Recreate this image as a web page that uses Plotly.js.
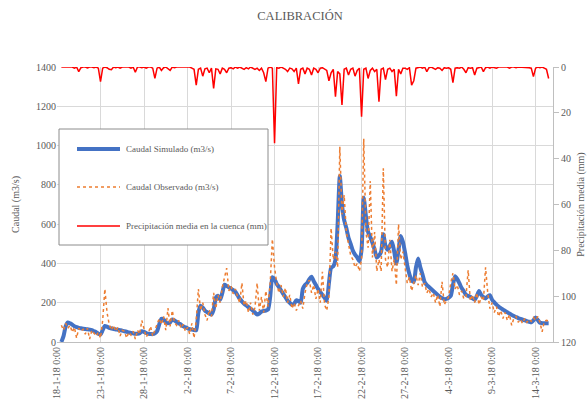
<!DOCTYPE html>
<html>
<head>
<meta charset="utf-8">
<script src="https://cdn.plot.ly/plotly-3.0.1.min.js"></script>
<style>
  html, body { margin: 0; padding: 0; background: #ffffff; }
  #chart { width: 587px; height: 400px; }
</style>
</head>
<body>
<div id="chart"></div>
<script>
// Series sampled every 6 hours, starting 18-1-18 12:00
const seriesStart = Date.UTC(2018, 0, 18, 12);
const stepHours = 6;

// Caudal simulado (m3/s)
const caudalSimulado = [
  0, 30,
  80, 100, 95, 88,
  80, 76, 72, 70,
  68, 66, 65, 63,
  60, 55, 50, 42,
  38, 60, 82, 78,
  72, 69, 66, 64,
  62, 60, 58, 55,
  52, 49, 46, 44,
  42, 42, 45, 55,
  52, 46, 42, 41,
  40, 44, 55, 90,
  118, 115, 100, 95,
  100, 115, 110, 102,
  95, 88, 80, 75,
  70, 66, 63, 61,
  60, 150, 185, 175,
  160, 152, 145, 140,
  165, 225, 235, 215,
  250, 292, 285, 278,
  272, 264, 255, 238,
  220, 207, 195, 186,
  178, 169, 160, 150,
  140, 145, 155, 158,
  160, 165, 230, 330,
  320, 295, 280, 262,
  245, 228, 210, 200,
  190, 195, 212, 208,
  200, 270, 290, 300,
  320, 332, 310, 290,
  270, 255, 240, 225,
  210, 300, 378, 385,
  420, 600, 845, 700,
  620, 580, 530, 500,
  465, 445, 430, 410,
  470, 735, 640, 560,
  535, 505, 470, 430,
  440, 460, 548, 490,
  470, 490, 510, 460,
  400, 470, 540, 510,
  455, 390, 345, 315,
  305, 380, 425, 380,
  345, 305, 290, 280,
  270, 260, 250, 240,
  230, 224, 218, 220,
  225, 235, 290, 335,
  320, 298, 275, 258,
  240, 235, 230, 222,
  215, 235, 260, 240,
  228, 222, 232, 238,
  215, 202, 190, 180,
  172, 165, 158, 151,
  145, 138, 132, 127,
  122, 118, 114, 110,
  106, 103, 100, 110,
  125, 112, 98, 96,
  95, 95, 95
];

// Caudal observado (m3/s)
const caudalObservado = [
  85, 60,
  95, 70, 85, 50,
  75, 20, 70, 55,
  65, 40, 70, 15,
  60, 45, 30, 50,
  20, 110, 270, 150,
  90, 60, 85, 55,
  75, 30, 60, 55,
  20, 50, 35, 55,
  15, 60, 40, 110,
  70, 25, 45, 80,
  30, 60, 85, 120,
  90, 130, 60, 172,
  80, 160, 100, 85,
  110, 70, 90, 55,
  75, 40, 95, 20,
  110, 270, 160, 200,
  140, 110, 165, 130,
  250, 170, 240, 200,
  280, 330, 376, 260,
  285, 245, 270, 230,
  200, 300, 185, 210,
  150, 200, 140, 175,
  300, 160, 230, 150,
  260, 180, 300, 524,
  380, 300, 250, 290,
  230, 275, 200, 240,
  170, 200, 160, 185,
  210, 170, 250, 300,
  315, 250, 290, 220,
  270, 200, 358, 190,
  160, 230, 580, 420,
  460, 380, 994, 650,
  748, 560, 500, 440,
  420, 380, 400, 360,
  420, 1035, 560, 480,
  820, 430, 560, 360,
  420, 360, 884, 420,
  380, 520, 360, 420,
  290, 600, 420, 460,
  380, 300, 330, 260,
  300, 340, 290, 350,
  280, 300, 250, 270,
  230, 250, 200, 240,
  180, 307, 190, 210,
  230, 300, 350, 270,
  290, 240, 260, 220,
  230, 366, 210, 240,
  200, 250, 190, 230,
  210, 380, 250, 170,
  200, 150, 180, 130,
  160, 120, 150, 110,
  140, 85, 120, 130,
  100, 115, 95, 120,
  100, 115, 105, 125,
  110, 130, 100, 52,
  105, 110, 108
];

// Precipitación media en la cuenca (mm)
const precipitacion = [
  0, 0,
  0, 0.3, 0, 0,
  0.5, 0, 2, 0.3,
  0, 0, 0.4, 0,
  0, 0.3, 0, 0.5,
  6.4, 0.5, 0, 0.3,
  1, 1.2, 0, 0.3,
  0, 0.5, 0, 0,
  0.3, 0, 0.5, 0,
  2.3, 0, 0, 0.3,
  0, 0.5, 0, 0,
  0.5, 5, 0.5, 0,
  1.5, 0.3, 0, 0.8,
  1.5, 0, 0.3, 0,
  0, 0.3, 0, 0,
  0.3, 0, 0.5, 1,
  7.9, 1, 0.5, 4,
  0.8, 0.5, 2.5, 0.5,
  9.3, 0.8, 1, 3,
  0.5, 1, 2.5, 0.5,
  0.3, 0.8, 0, 0.5,
  0, 0.5, 1, 0.3,
  0.8, 0, 0.5, 1,
  0.5, 1.5, 0.5, 2.5,
  6.4, 0.5, 0, 0.5,
  33.3, 0.3, 0.5, 0,
  0.5, 1, 2, 0.5,
  0.8, 2, 0.5, 7.4,
  1, 0.5, 3, 0.5,
  1, 3.5, 0.5, 1,
  2.5, 0.5, 0.3, 1,
  1.5, 6, 2.5, 1,
  13, 2, 3, 16.6,
  1, 0.5, 3.5, 1,
  0.5, 4, 1.5, 0.5,
  21.7, 1, 0.5, 5,
  1.5, 0.5, 2, 1,
  15.1, 1, 0.5, 5.5,
  1, 0.5, 2, 1,
  12.7, 1, 3, 0.5,
  0.5, 1, 0.3, 7.9,
  6, 0.5, 0.3, 0,
  0.5, 0, 2, 0.3,
  0, 0.5, 1, 0.3,
  0.5, 1.5, 0.3, 0.5,
  0.3, 1, 6.8, 0.5,
  0.3, 0.5, 0, 1,
  2.5, 0.3, 0.5, 0.3,
  3.5, 0.5, 0.3, 0,
  2, 0.3, 0, 0.5,
  0, 0.3, 0.5, 0,
  0, 0.3, 0, 0,
  0.5, 0, 0, 0.3,
  0, 0, 0.3, 0,
  0, 0.3, 0.5, 4.2,
  0.5, 0, 0.3, 0,
  0.5, 1, 5
];

// Date axis ticks, every 5 days
const tickDates = [
  '2018-01-18', '2018-01-23', '2018-01-28', '2018-02-02', '2018-02-07', '2018-02-12',
  '2018-02-17', '2018-02-22', '2018-02-27', '2018-03-04', '2018-03-09', '2018-03-14'
];
const tickLabels = [
  '18-1-18 0:00', '23-1-18 0:00', '28-1-18 0:00', '2-2-18 0:00', '7-2-18 0:00', '12-2-18 0:00',
  '17-2-18 0:00', '22-2-18 0:00', '27-2-18 0:00', '4-3-18 0:00', '9-3-18 0:00', '14-3-18 0:00'
];

const legendNames = [
  'Caudal Simulado (m3/s)',
  'Caudal Observado (m3/s)',
  'Precipitación media en la cuenca (mm)'
];

function timeAxis(values) {
  return values.map(function (_, i) {
    const t = new Date(seriesStart + i * stepHours * 3600e3);
    return t.toISOString().slice(0, 16).replace('T', ' ');
  });
}

const colSim = '#4472C4';
const colObs = '#ED7D31';
const colPre = '#FF0000';
const serif = '"Liberation Serif", "Times New Roman", serif';
const grey = '#595959';

const traces = [
  {
    x: timeAxis(caudalSimulado), y: caudalSimulado, name: legendNames[0],
    type: 'scatter', mode: 'lines', yaxis: 'y',
    line: { color: colSim, width: 4, shape: 'spline', smoothing: 0.6 }
  },
  {
    x: timeAxis(caudalObservado), y: caudalObservado, name: legendNames[1],
    type: 'scatter', mode: 'lines', yaxis: 'y',
    line: { color: colObs, width: 1.5, dash: 'dot' }
  },
  {
    x: timeAxis(precipitacion), y: precipitacion, name: legendNames[2],
    type: 'scatter', mode: 'lines', yaxis: 'y2',
    line: { color: colPre, width: 1.5 }
  }
];

// Plot area spans pixels 57..553 horizontally and 67..342 vertically
const L = 57, R = 553, T = 67, B = 342;
const px = function (x) { return (x - L) / (R - L); };
const py = function (y) { return (B - y) / (B - T); };

const legendRows = [149, 187, 226];
const shapes = [
  { type: 'rect', xref: 'paper', yref: 'paper', x0: px(59), x1: px(268), y0: py(245), y1: py(129),
    line: { color: '#8c8c8c', width: 1 }, fillcolor: '#ffffff', layer: 'above' },
  { type: 'line', xref: 'paper', yref: 'paper', x0: px(77), x1: px(120), y0: py(legendRows[0]), y1: py(legendRows[0]),
    line: { color: colSim, width: 4 }, layer: 'above' },
  { type: 'line', xref: 'paper', yref: 'paper', x0: px(77), x1: px(120), y0: py(legendRows[1]), y1: py(legendRows[1]),
    line: { color: colObs, width: 1.5, dash: 'dot' }, layer: 'above' },
  { type: 'line', xref: 'paper', yref: 'paper', x0: px(77), x1: px(120), y0: py(legendRows[2]), y1: py(legendRows[2]),
    line: { color: colPre, width: 1.5 }, layer: 'above' }
];
const annotations = legendRows.map(function (row, i) {
  return {
    xref: 'paper', yref: 'paper', x: px(124), y: py(row), xanchor: 'left', yanchor: 'middle',
    text: legendNames[i], showarrow: false, font: { family: serif, size: 9, color: grey }
  };
});

const layout = {
  width: 587, height: 400,
  margin: { l: L, r: 587 - R, t: T, b: 400 - B, pad: 0 },
  paper_bgcolor: '#ffffff', plot_bgcolor: '#ffffff',
  font: { family: serif, size: 10, color: grey },
  showlegend: false,
  title: {
    text: 'CALIBRACIÓN', x: 300 / 587, xanchor: 'center', y: 1 - 16 / 400, yanchor: 'middle',
    font: { family: serif, size: 12.5, color: grey }
  },
  xaxis: {
    type: 'date', range: ['2018-01-18', '2018-03-16'],
    tickmode: 'array', tickvals: tickDates, ticktext: tickLabels, tickangle: -90,
    showgrid: true, gridcolor: '#d9d9d9', gridwidth: 1,
    showline: true, linecolor: '#bfbfbf', linewidth: 1, zeroline: false,
    ticks: '', tickfont: { family: serif, size: 10, color: grey }, automargin: false
  },
  yaxis: {
    range: [0, 1400], dtick: 200, tick0: 0,
    showgrid: true, gridcolor: '#d9d9d9', gridwidth: 1,
    showline: false, zeroline: false, ticks: '',
    tickfont: { family: serif, size: 10, color: grey }, automargin: false,
    title: { text: 'Caudal (m3/s)', font: { family: serif, size: 10, color: grey }, standoff: 14 }
  },
  yaxis2: {
    overlaying: 'y', side: 'right', range: [120, 0], dtick: 20, tick0: 0,
    showgrid: false, zeroline: false,
    showline: true, linecolor: '#bfbfbf', linewidth: 1,
    ticks: 'outside', ticklen: 5, tickcolor: '#bfbfbf',
    tickfont: { family: serif, size: 10, color: grey }, automargin: false,
    title: { text: 'Precipitación media (mm)', font: { family: serif, size: 10, color: grey }, standoff: 20 }
  },
  shapes: shapes,
  annotations: annotations
};

Plotly.newPlot('chart', traces, layout, { displayModeBar: false, staticPlot: true });
</script>
</body>
</html>
